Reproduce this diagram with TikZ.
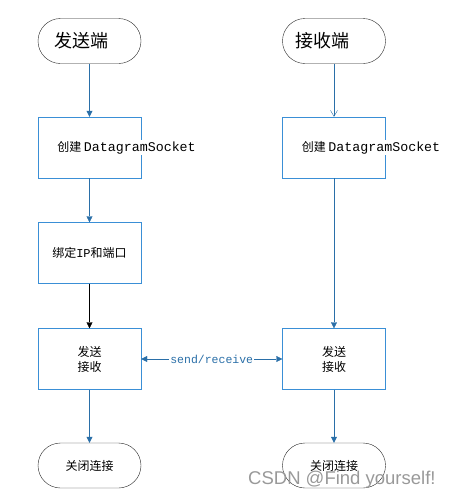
\documentclass[tikz,border=0pt]{standalone}
\usepackage{fontspec}
\setmonofont{Liberation Mono}
\newfontfamily\cjk{Noto Sans CJK SC}
\newfontfamily\wmfont{Liberation Sans}
\usetikzlibrary{shapes.misc,arrows.meta,positioning}

\definecolor{boxblue}{HTML}{3A8FD6}
\definecolor{lineblue}{HTML}{2A6FA8}

\tikzset{
	term/.style={draw=black!85, rounded rectangle, minimum width=103pt, minimum height=45pt, inner sep=0pt},
	proc/.style={draw=boxblue, minimum width=103pt, minimum height=61pt, inner sep=0pt},
	txt/.style={font=\cjk\fontsize{12}{15}\selectfont, align=center, inner sep=1pt},
	big/.style={font=\cjk\fontsize{18}{20}\selectfont, inner sep=0pt},
	flow/.style={draw=lineblue, -{Triangle[length=6pt,width=6pt]}},
}
\newcommand{\dgs}{{\ttfamily\fontsize{13.3}{15}\selectfont DatagramSocket}}

\begin{document}
\begin{tikzpicture}[x=1pt,y=-1pt]
	\useasboundingbox (0,0) rectangle (452,498);
	% sender side
	\node (s1) [term] at (89.5,41) {};
	\node [big] at ([xshift=-8pt]s1.center) {发送端};
	\node (c1) [proc] at (89.5,147.5) {};
	\node [txt, fill=white] at (126.5,147.5) {创建 \dgs};
	\node (b1) [proc] at (89.5,253) {};
	\node [txt] at (b1.center) {绑定\texttt{IP}和端口};
	\node (t1) [proc] at (89.5,359) {};
	\node [txt] at (t1.center) {发送\\接收};
	\node (e1) [term] at (89.5,465.5) {};
	\node [txt] at (e1.center) {关闭连接};
	% receiver side
	\node (s2) [term] at (334,41) {};
	\node [big] at ([xshift=-12pt]s2.center) {接收端};
	\node (c2) [proc] at (334,147.5) {};
	\node [txt, fill=white] at (371,147.5) {创建 \dgs};
	\node (t2) [proc] at (334,359) {};
	\node [txt] at (t2.center) {发送\\接收};
	\node (e2) [term] at (334,465.5) {};
	\node [txt] at (e2.center) {关闭连接};
	% connectors
	\draw [flow] (s1) -- (c1);
	\draw [flow] (c1) -- (b1);
	\draw [-{Triangle[length=6pt,width=6pt]}] (b1) -- (t1);
	\draw [flow] (t1) -- (e1);
	\draw [draw=lineblue, -{Straight Barb[length=6pt,width=7pt]}] (s2) -- (c2);
	\draw [flow] (c2) -- (t2);
	\draw [flow] (t2) -- (e2);
	\draw [flow, {Triangle[length=6pt,width=6pt]}-{Triangle[length=6pt,width=6pt]}] (t1) -- node [fill=white, inner sep=1pt, text=lineblue, font=\ttfamily\fontsize{11.5}{13}\selectfont] {send/receive} (t2);
	% watermark
	\node [font=\wmfont\fontsize{18.5}{20}\selectfont, text=black!40, anchor=base west, inner sep=0pt] at (248,484) {CSDN @Find yourself!};
\end{tikzpicture}
\end{document}
